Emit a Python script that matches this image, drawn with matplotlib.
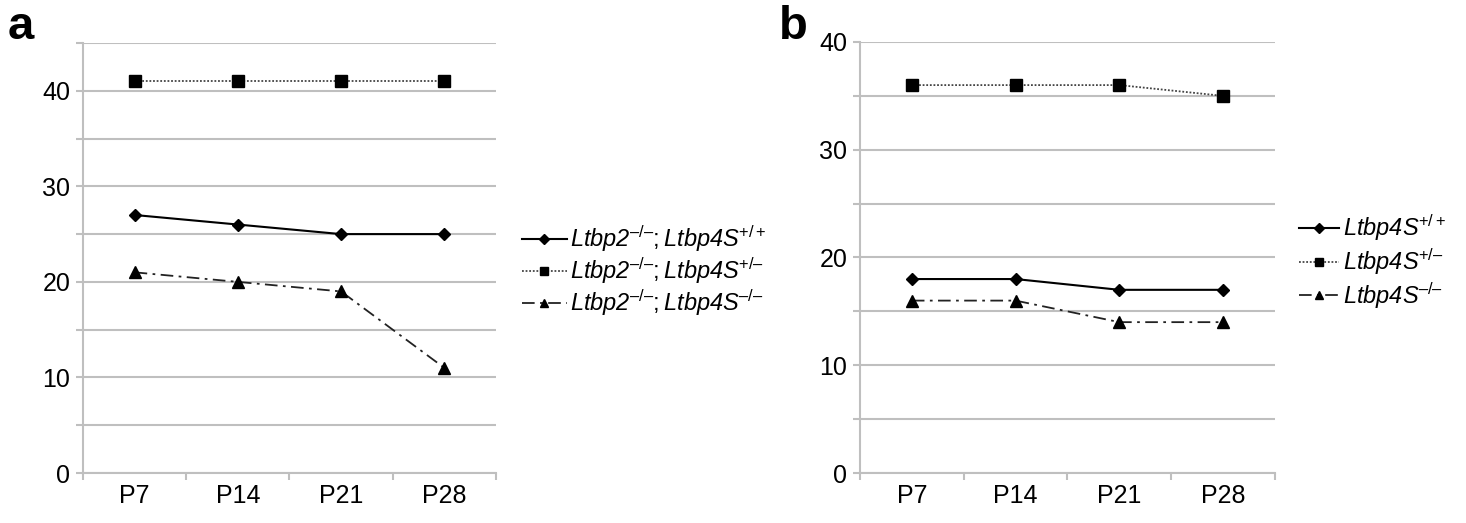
import matplotlib
matplotlib.use("Agg")
import matplotlib.pyplot as plt
from matplotlib.ticker import MultipleLocator, FixedLocator

plt.rcParams['font.family'] = ['Liberation Sans', 'DejaVu Sans']
plt.rcParams['mathtext.fontset'] = 'custom'
plt.rcParams['mathtext.rm'] = 'Liberation Sans'
plt.rcParams['mathtext.it'] = 'Liberation Sans:italic'
plt.rcParams['mathtext.bf'] = 'Liberation Sans:bold'

categories = ["P7", "P14", "P21", "P28"]

a_wt = [27, 26, 25, 25]
a_het = [41, 41, 41, 41]
a_ko = [21, 20, 19, 11]
a_labels = [r"Ltbp2$^{\mathit{–/–}}\mathrm{;}$Ltbp4S$^{\mathit{+/+}}$",
            r"Ltbp2$^{\mathit{–/–}}\mathrm{;}$Ltbp4S$^{\mathit{+/–}}$",
            r"Ltbp2$^{\mathit{–/–}}\mathrm{;}$Ltbp4S$^{\mathit{–/–}}$"]

b_wt = [18, 18, 17, 17]
b_het = [36, 36, 36, 35]
b_ko = [16, 16, 14, 14]
b_labels = [r"Ltbp4S$^{\mathit{+/+}}$",
            r"Ltbp4S$^{\mathit{+/–}}$",
            r"Ltbp4S$^{\mathit{–/–}}$"]

GRID = "#bfbfbf"

fig = plt.figure(figsize=(14.66, 5.23), dpi=100)
ax_a = fig.add_axes([0.0566, 0.0956, 0.2817, 0.8222])
ax_b = fig.add_axes([0.5866, 0.0956, 0.2831, 0.8241])

def style(ax, ymax, series, labels, leg_anchor, hl, ls_):
    x = list(range(len(categories)))
    wt, het, ko = series
    h1, = ax.plot(x, wt, color="black", lw=1.5, ls="-", marker="D", ms=6, label=labels[0])
    h2, = ax.plot(x, het, color="#444444", lw=1.3, ls=(0, (1, 1)), marker="s", ms=8,
                  mfc="black", mec="black", label=labels[1])
    h3, = ax.plot(x, ko, color="#222222", lw=1.3, ls=(0, (7, 3, 1.5, 3)), marker="^", ms=8,
                  mfc="black", mec="black", label=labels[2])
    ax.set_xlim(-0.5, len(categories) - 0.5)
    ax.set_ylim(0, ymax)
    ax.yaxis.set_major_locator(MultipleLocator(10))
    ax.yaxis.set_minor_locator(MultipleLocator(5))
    ax.grid(True, axis="y", which="both", color=GRID, lw=1.5)
    ax.set_axisbelow(True)
    ax.set_xticks(x)
    ax.set_xticklabels(categories)
    ax.xaxis.set_minor_locator(FixedLocator([i - 0.5 for i in range(len(categories) + 1)]))
    ax.tick_params(axis="x", which="major", length=0, labelsize=18, pad=8)
    ax.tick_params(axis="x", which="minor", length=5, color=GRID, width=1.5)
    ax.tick_params(axis="y", which="both", length=5, color=GRID, width=1.5, labelsize=18, pad=4)
    for s in ["top", "right"]:
        ax.spines[s].set_visible(False)
    for s in ["left", "bottom"]:
        ax.spines[s].set_color(GRID)
        ax.spines[s].set_linewidth(1.5)
    leg = ax.legend(handles=[h1, h2, h3], loc="center left", bbox_to_anchor=leg_anchor,
                    frameon=False, prop={"size": 17, "style": "italic"},
                    handlelength=hl, handletextpad=0.15,
                    labelspacing=ls_, borderaxespad=0, markerscale=0.8)
    return leg

style(ax_a, 45, (a_wt, a_het, a_ko), a_labels, (1.04, 0.47), 1.9, 0.08)
style(ax_b, 40, (b_wt, b_het, b_ko), b_labels, (1.035, 0.49), 1.7, 0.15)

fig.text(0.005, 0.925, "a", fontsize=34, fontweight="bold")
fig.text(0.531, 0.925, "b", fontsize=34, fontweight="bold")

fig.savefig("out.png", dpi=100)
